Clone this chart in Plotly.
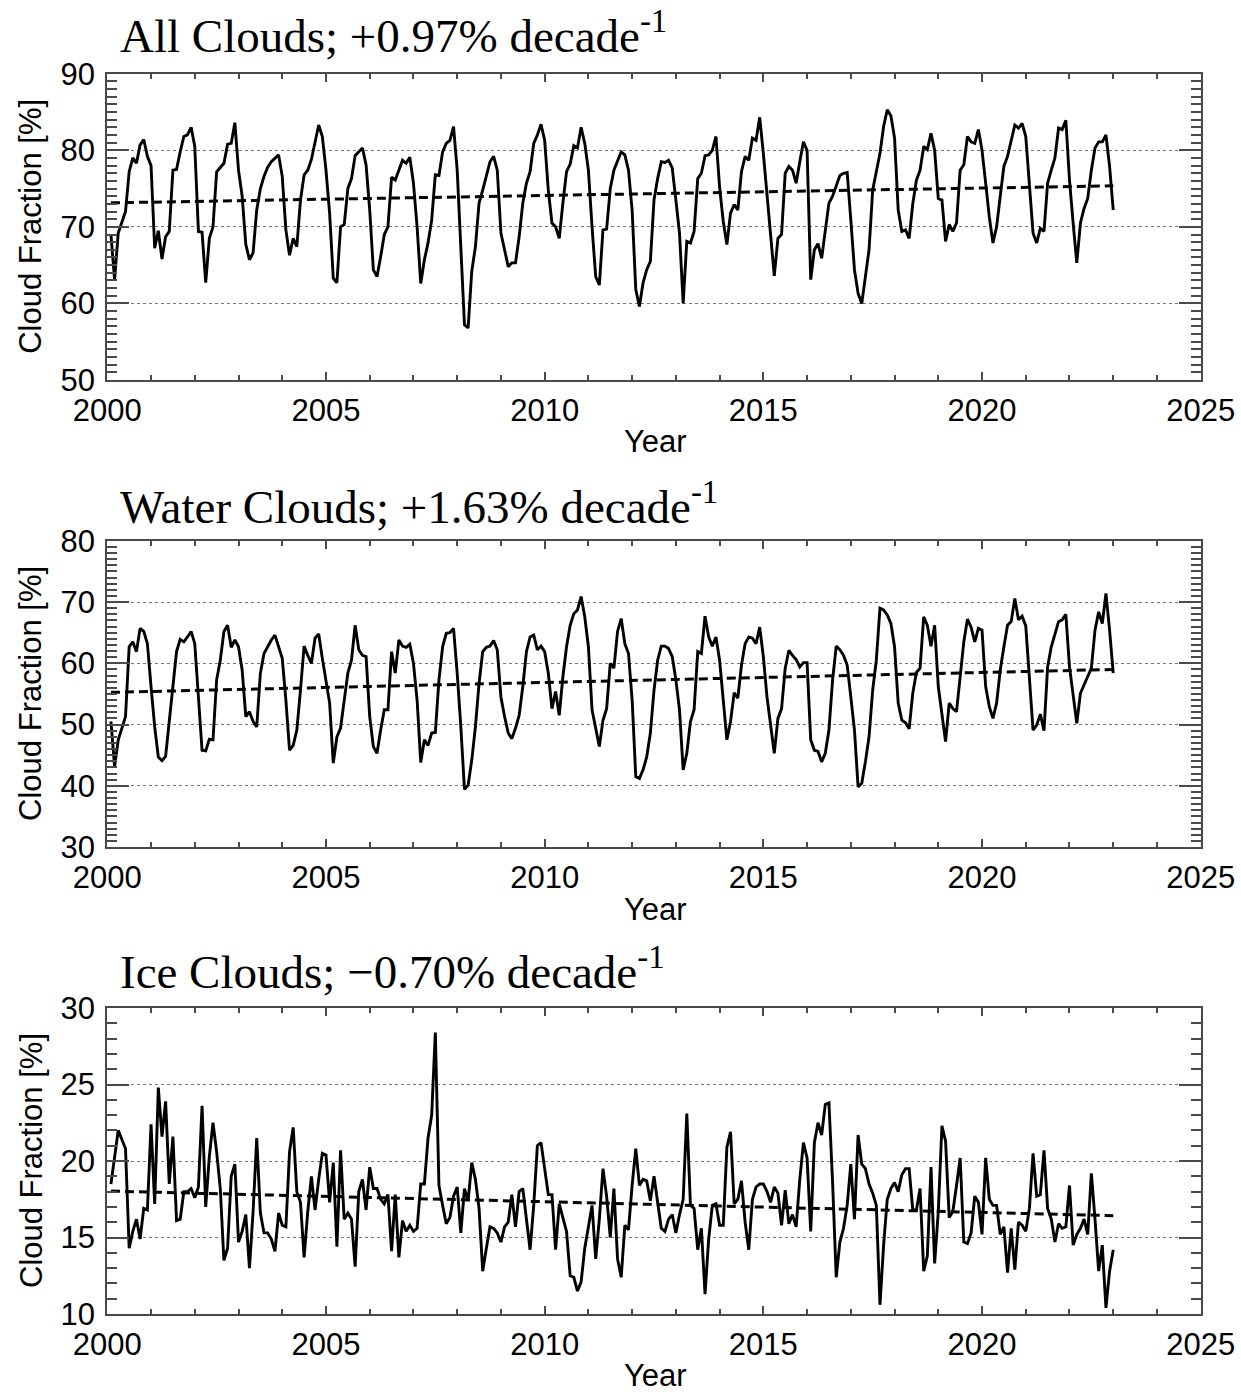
import numpy as np
import plotly.graph_objects as go
from plotly.subplots import make_subplots

# ---------------- data (monthly, Feb 2000 .. Jan 2023) ----------------
start_year = 2000
first_month_index = 1  # months after Jan 2000

all_clouds = [
    69.0, 63.1, 69.2, 70.5, 72.0, 77.2, 79.0, 78.3, 80.7, 81.4,
    79.2, 78.0, 67.2, 69.5, 65.8, 68.7, 69.4, 77.4, 77.5, 79.8,
    81.8, 82.0, 83.0, 80.5, 69.4, 69.3, 62.7, 68.5, 70.0, 77.2,
    77.7, 78.3, 80.8, 80.9, 83.6, 77.4, 74.0, 67.7, 65.7, 66.6,
    72.2, 75.0, 76.6, 77.8, 78.5, 79.0, 79.4, 76.6, 69.6, 66.3,
    68.5, 67.4, 73.5, 76.8, 77.4, 78.8, 81.3, 83.3, 81.8, 77.4,
    71.8, 63.3, 62.7, 70.0, 70.3, 75.0, 76.3, 79.3, 79.8, 80.3,
    78.1, 72.2, 64.4, 63.5, 66.1, 69.0, 70.0, 76.5, 76.1, 77.4,
    78.7, 78.3, 79.1, 75.7, 70.0, 62.6, 65.7, 67.9, 70.9, 76.8,
    76.7, 79.8, 80.9, 81.3, 83.1, 77.4, 67.9, 57.2, 56.8, 64.2,
    67.4, 73.1, 74.8, 76.7, 78.5, 79.2, 77.4, 69.2, 67.0, 64.8,
    65.3, 65.3, 68.7, 73.1, 75.7, 77.2, 80.9, 82.0, 83.4, 81.3,
    74.8, 70.5, 70.0, 68.5, 73.1, 77.2, 78.2, 80.6, 80.3, 83.0,
    80.9, 77.4, 70.0, 63.5, 62.4, 69.6, 69.7, 75.0, 77.4, 78.5,
    79.8, 79.4, 77.4, 72.2, 61.8, 59.6, 62.7, 64.4, 65.5, 73.5,
    76.3, 78.5, 78.4, 78.7, 77.7, 73.5, 69.2, 60.0, 68.1, 67.9,
    69.4, 76.3, 77.0, 79.3, 79.4, 80.0, 81.8, 75.2, 70.7, 67.7,
    71.8, 72.9, 72.2, 77.2, 79.2, 78.7, 81.6, 81.3, 84.3, 79.6,
    74.0, 68.7, 63.6, 68.5, 69.0, 77.0, 77.9, 77.4, 75.7, 78.5,
    81.1, 80.0, 63.1, 67.0, 67.8, 65.9, 69.2, 73.1, 74.0, 75.5,
    76.7, 77.0, 77.1, 70.9, 64.4, 61.3, 60.0, 63.5, 67.0, 74.8,
    77.0, 79.6, 83.1, 85.3, 84.5, 81.6, 72.2, 69.4, 69.6, 68.5,
    73.0, 76.1, 77.4, 80.5, 80.1, 82.2, 80.0, 73.7, 73.5, 68.1,
    70.3, 69.4, 70.5, 77.4, 78.1, 81.8, 81.1, 80.9, 82.7, 80.0,
    75.7, 71.3, 67.9, 70.0, 74.0, 77.9, 79.2, 81.1, 83.3, 82.9,
    83.5, 81.8, 75.3, 69.2, 67.9, 69.8, 69.4, 75.7, 77.4, 79.0,
    82.9, 82.7, 83.9, 76.1, 70.5, 65.3, 70.5, 72.4, 73.7, 77.4,
    80.3, 81.1, 81.1, 82.0, 77.9, 72.2,
]

water_clouds = [
    50.5, 43.1, 47.5, 49.6, 51.3, 62.7, 63.5, 61.9, 65.7, 65.2,
    63.2, 56.2, 49.6, 44.7, 44.1, 44.8, 50.7, 56.2, 61.9, 63.9,
    63.5, 64.3, 65.2, 63.2, 53.5, 45.8, 45.7, 47.6, 47.5, 57.3,
    60.5, 65.2, 66.2, 62.6, 63.8, 62.7, 58.9, 51.3, 52.1, 50.5,
    49.6, 58.4, 61.6, 62.7, 63.8, 64.6, 62.7, 60.8, 54.0, 45.8,
    46.6, 49.1, 55.6, 62.8, 61.3, 60.0, 64.1, 64.8, 60.8, 57.3,
    53.5, 43.7, 48.0, 49.4, 54.0, 58.4, 60.5, 66.2, 62.2, 61.3,
    61.1, 51.3, 46.4, 45.3, 49.1, 52.4, 52.4, 61.9, 58.4, 63.8,
    62.8, 62.6, 63.1, 60.0, 54.0, 43.8, 47.5, 46.6, 48.6, 48.7,
    57.3, 62.7, 64.9, 65.0, 65.7, 58.4, 49.6, 39.4, 40.1, 44.2,
    49.6, 56.7, 61.9, 62.6, 62.8, 63.7, 62.2, 54.5, 51.3, 48.6,
    47.7, 49.4, 51.5, 56.2, 61.9, 64.3, 64.6, 62.2, 62.8, 61.9,
    58.4, 52.6, 55.4, 51.5, 57.8, 62.7, 66.2, 68.1, 68.7, 70.9,
    67.6, 62.7, 52.4, 49.6, 46.4, 50.7, 52.6, 60.0, 59.2, 65.2,
    67.3, 63.2, 61.6, 54.0, 41.5, 41.2, 42.6, 44.7, 48.6, 55.6,
    60.5, 62.8, 62.8, 62.4, 61.1, 57.3, 52.4, 42.6, 45.3, 50.5,
    52.4, 61.9, 61.6, 67.7, 64.3, 62.8, 64.3, 60.5, 54.0, 47.5,
    50.5, 55.2, 54.3, 59.7, 63.2, 64.3, 64.1, 63.2, 65.9, 61.1,
    54.5, 49.6, 45.3, 51.0, 52.6, 59.2, 62.1, 61.3, 60.6, 59.4,
    60.1, 60.1, 47.5, 45.8, 45.6, 43.9, 45.3, 49.1, 57.3, 62.8,
    62.2, 61.3, 59.7, 54.5, 49.1, 39.8, 40.4, 43.9, 48.0, 55.6,
    60.5, 69.0, 68.7, 67.9, 66.5, 62.7, 53.5, 50.7, 50.3, 49.3,
    55.1, 58.5, 59.2, 67.6, 66.2, 62.8, 66.2, 56.2, 52.1, 47.2,
    53.5, 52.6, 52.1, 58.4, 63.5, 67.2, 65.9, 63.5, 65.7, 65.4,
    56.2, 52.9, 51.0, 53.5, 58.9, 62.7, 66.2, 66.8, 70.6, 67.1,
    67.7, 66.1, 57.3, 49.1, 49.9, 51.7, 49.0, 59.4, 62.7, 64.6,
    66.8, 67.1, 68.0, 59.4, 54.5, 50.2, 55.1, 56.4, 57.8, 59.2,
    65.4, 68.4, 66.5, 71.4, 65.4, 58.4,
]

ice_clouds = [
    18.5, 20.3, 22.0, 21.4, 20.8, 14.3, 15.4, 16.2, 14.9, 16.9,
    16.8, 22.4, 17.2, 24.8, 21.6, 23.9, 18.5, 21.6, 16.1, 16.2,
    18.0, 18.0, 18.2, 17.6, 18.3, 23.6, 17.0, 20.3, 22.5, 20.6,
    18.2, 13.5, 14.3, 19.0, 19.8, 14.7, 15.4, 16.5, 13.0, 16.7,
    21.5, 16.6, 15.3, 15.3, 14.9, 14.1, 16.6, 15.8, 15.7, 20.6,
    22.2, 18.0, 17.3, 13.7, 16.7, 19.0, 16.8, 18.8, 20.5, 20.4,
    17.3, 19.9, 14.4, 20.7, 16.2, 16.6, 16.2, 13.1, 18.0, 18.8,
    16.8, 19.6, 18.2, 18.2, 17.5, 17.2, 17.8, 14.1, 17.8, 13.7,
    16.1, 15.4, 15.8, 15.4, 15.6, 18.5, 18.5, 21.5, 23.0, 28.4,
    18.4, 17.1, 15.9, 16.3, 17.7, 18.3, 15.3, 18.2, 17.4, 19.9,
    18.8, 16.9, 12.8, 14.3, 15.7, 15.6, 15.3, 14.7, 15.7, 16.0,
    17.8, 15.7, 18.0, 18.2, 16.0, 14.2, 17.1, 21.0, 21.2, 19.5,
    17.8, 17.8, 14.2, 17.2, 16.2, 15.4, 12.5, 12.4, 11.5, 12.1,
    14.3, 15.8, 17.1, 13.6, 16.2, 19.5, 17.7, 15.0, 18.2, 13.6,
    12.4, 15.8, 15.5, 18.4, 20.8, 18.4, 18.8, 18.7, 17.4, 19.0,
    17.3, 15.6, 15.4, 16.2, 16.5, 15.3, 16.5, 17.5, 23.1, 17.1,
    16.9, 14.2, 15.6, 11.3, 14.9, 17.1, 17.2, 15.8, 15.8, 20.9,
    21.9, 17.2, 17.5, 18.7, 16.0, 14.2, 17.5, 18.3, 18.5, 18.5,
    18.0, 17.3, 18.3, 17.9, 15.8, 18.1, 15.9, 16.5, 15.7, 18.8,
    21.2, 20.2, 15.4, 21.2, 22.5, 21.7, 23.7, 23.8, 18.6, 12.4,
    14.7, 15.6, 17.1, 19.8, 16.2, 21.7, 19.8, 19.5, 18.5, 17.9,
    17.1, 10.6, 14.5, 17.5, 18.2, 18.6, 18.0, 19.1, 19.5, 19.5,
    16.8, 16.8, 18.2, 12.8, 13.8, 19.6, 13.3, 16.7, 22.3, 21.3,
    16.3, 16.7, 18.4, 20.2, 14.7, 14.6, 15.3, 17.7, 17.3, 15.2,
    20.2, 17.5, 17.1, 17.1, 15.2, 15.7, 12.7, 15.6, 12.9, 16.0,
    15.8, 15.4, 16.9, 20.5, 17.7, 17.8, 20.7, 16.9, 16.2, 14.7,
    15.9, 15.6, 15.7, 18.4, 14.5, 15.2, 15.6, 16.2, 15.2, 19.2,
    16.2, 12.8, 14.5, 10.4, 12.8, 14.2,
]

# trends in % per decade (from panel titles)
trend_per_decade = [0.97, 1.63, -0.70]
panel_names = ["All Clouds", "Water Clouds", "Ice Clouds"]
trend_labels = ["+0.97%", "+1.63%", "\u22120.70%"]
y_ranges = [(50, 90), (30, 80), (10, 30)]
y_major = [10, 10, 5]
x_range = (2000, 2025)

series = [all_clouds, water_clouds, ice_clouds]

# ---------------- figure ----------------
W, H = 1241, 1392
fig = make_subplots(rows=3, cols=1)

def px_x(p):
    return p / W

def px_y(p):
    return 1 - p / H

x_left, x_right = 107.3, 1200.7
panel_tops = [73.7, 540.8, 1008.0]
panel_bots = [380.0, 847.0, 1314.0]
title_y = [33, 503, 968]
year_y = [441, 909, 1375]

TICK_FONT = dict(family="Liberation Sans, Arial, sans-serif", size=31, color="black")
AX_COLOR = "#4a4a4a"

for i, vals in enumerate(series):
    v = np.array(vals, dtype=float)
    months = np.arange(first_month_index, first_month_index + len(v))
    t = start_year + months / 12.0
    slope = trend_per_decade[i] / 10.0
    intercept = v.mean() - slope * t.mean()
    trend = intercept + slope * t

    fig.add_trace(go.Scatter(x=t, y=v, mode="lines",
                             line=dict(color="black", width=2.9),
                             showlegend=False, hoverinfo="skip"),
                  row=i + 1, col=1)
    fig.add_trace(go.Scatter(x=t, y=trend, mode="lines",
                             line=dict(color="black", width=3, dash="9px,5px"),
                             showlegend=False, hoverinfo="skip"),
                  row=i + 1, col=1)

    xa = "xaxis" if i == 0 else f"xaxis{i+1}"
    ya = "yaxis" if i == 0 else f"yaxis{i+1}"
    fig.layout[xa].update(
        domain=[px_x(x_left), px_x(x_right)],
        range=list(x_range), tickmode="linear", tick0=2000, dtick=5,
        ticks="inside", ticklen=8, tickwidth=1.5, tickcolor=AX_COLOR,
        minor=dict(dtick=1, tick0=2000, ticks="inside", ticklen=5,
                   tickwidth=1.5, tickcolor=AX_COLOR, showgrid=False),
        showline=True, linecolor=AX_COLOR, linewidth=2, mirror="allticks",
        showgrid=False, zeroline=False, tickfont=TICK_FONT,
        ticklabelstandoff=2, automargin=False,
    )
    y0, y1 = y_ranges[i]
    fig.layout[ya].update(
        domain=[px_y(panel_bots[i]), px_y(panel_tops[i])],
        range=[y0, y1], tickmode="linear", tick0=y0, dtick=y_major[i],
        ticks="inside", ticklen=22, tickwidth=1.5, tickcolor=AX_COLOR,
        minor=dict(dtick=1, ticks="inside", ticklen=10, tickwidth=1.5,
                   tickcolor=AX_COLOR, showgrid=False),
        showline=True, linecolor=AX_COLOR, linewidth=2, mirror="allticks",
        showgrid=True, gridcolor="#7a7a7a", gridwidth=1.3, griddash="dot",
        zeroline=False, tickfont=TICK_FONT, ticklabelstandoff=4,
        automargin=False,
    )

    # panel title
    fig.add_annotation(
        xref="paper", yref="paper", x=px_x(118), y=px_y(title_y[i]),
        xanchor="left", yanchor="middle", showarrow=False,
        text=f"{panel_names[i]}; {trend_labels[i]} decade<sup>-1</sup>",
        font=dict(family="Liberation Serif, Times New Roman, serif",
                  size=47, color="black"))
    # y-axis title
    fig.add_annotation(
        xref="paper", yref="paper", x=px_x(31),
        y=px_y((panel_tops[i] + panel_bots[i]) / 2),
        xanchor="center", yanchor="middle", showarrow=False, textangle=-90,
        text="Cloud Fraction [%]", font=TICK_FONT)
    # x-axis title
    fig.add_annotation(
        xref="paper", yref="paper", x=px_x(655), y=px_y(year_y[i]),
        xanchor="center", yanchor="middle", showarrow=False,
        text="Year", font=TICK_FONT)

fig.update_layout(
    width=W, height=H, margin=dict(l=0, r=0, t=0, b=0),
    paper_bgcolor="white", plot_bgcolor="white", showlegend=False,
)

fig.write_html(
    "out.html",
    config={"displayModeBar": False},
    post_script="document.body.style.margin='0';"
                "document.body.style.overflow='hidden';",
)
